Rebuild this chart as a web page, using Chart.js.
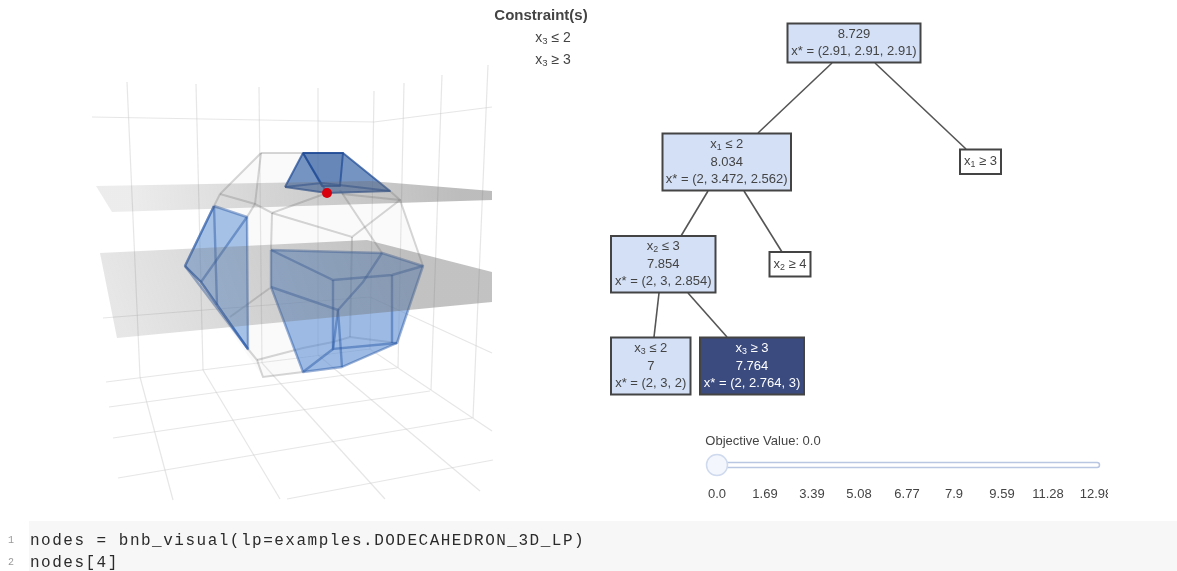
<!DOCTYPE html>
<html>
<head>
<meta charset="utf-8">
<script src="https://cdn.jsdelivr.net/npm/chart.js@4"></script>
<style>
    html, body { margin: 0; padding: 0; background: #fff; overflow: hidden; }
    #chartBox { position: absolute; left: 0; top: 0; width: 1177px; height: 521px; }
    #treeChart { filter: blur(0.4px); }
    #code { position: absolute; left: 29px; top: 521px; width: 1148px; height: 50px; background: #f7f7f7; }
    #code pre { position: absolute; left: 1px; margin: 0; font: 16px/22px "Liberation Mono", monospace; letter-spacing: 1.5px; color: #2b2b2b; }
    #code span { position: absolute; left: -21px; font: 10px/22px "Liberation Mono", monospace; letter-spacing: 0; color: #999; }
</style>
</head>
<body>
<div id="chartBox"><canvas id="treeChart" width="1177" height="521"></canvas></div>
<div id="code">
    <span style="top:9px">1</span><pre style="top:9px">nodes = bnb_visual(lp=examples.DODECAHEDRON_3D_LP)</pre>
    <span style="top:31px">2</span><pre style="top:31px">nodes[4]</pre>
</div>
<script>
// 3d scene in page pixels
const gridLines = [
    [[127, 82], [140, 377]], [[196, 84], [203, 370]], [[259, 87], [262, 363]],
    [[318, 88], [318, 355]], [[374, 91], [370, 349]], [[404, 83], [398, 368]],
    [[442, 75], [431, 390]], [[488, 65], [473, 418]],
    [[92, 117], [374, 122], [492, 107]],
    [[103, 318], [370, 297], [492, 353]],
    [[106, 382], [370, 349], [492, 431]],
    [[109, 407], [397, 368]], [[113, 438], [430, 391]],
    [[118, 478], [472, 418]], [[287, 499], [493, 460]],
    [[140, 377], [173, 500]], [[203, 370], [280, 499]],
    [[262, 363], [385, 499]], [[318, 355], [480, 491]]
];

const hullShape = [[261, 153], [343, 153], [400, 200], [423, 266], [397, 343], [342, 367], [263, 377], [185, 266], [220, 194]];

const wireEdges = [
    [[261, 153], [303, 153]], [[261, 153], [220, 194]], [[261, 153], [255, 204]],
    [[220, 194], [255, 204], [272, 213], [327, 193]],
    [[255, 204], [247, 217]], [[220, 194], [214, 206]],
    [[272, 213], [352, 237], [400, 200], [390, 191]],
    [[272, 213], [271, 250]], [[340, 190], [382, 253]],
    [[342, 194], [400, 200], [423, 266]],
    [[352, 237], [350, 337]],
    [[230, 317], [270, 288]],
    [[248, 349], [257, 360], [263, 377], [303, 372]],
    [[257, 360], [303, 348], [333, 342], [350, 337], [397, 343]]
];

const capFaces = [
    [[285, 187], [303, 153], [343, 153], [390, 191], [327, 193]],
    [[303, 153], [343, 153], [340, 186], [322, 186]]
];
const capEdges = [
    [[303, 153], [327, 193]],
    [[285, 187], [322, 183], [390, 191]]
];
const leftFaces = [
    [[214, 206], [247, 217], [248, 349], [201, 282], [185, 266]]
];
const leftEdges = [
    [[214, 206], [185, 266]], [[247, 217], [201, 282]], [[185, 266], [201, 282], [248, 349]],
    [[185, 266], [248, 349]], [[214, 206], [217, 305]]
];
const rightFaces = [
    [[271, 250], [382, 253], [423, 266], [397, 343], [342, 367], [303, 372], [271, 287]]
];
const rightEdges = [
    [[271, 250], [333, 280], [392, 275], [423, 266]],
    [[382, 253], [363, 282], [338, 310]],
    [[271, 287], [338, 310], [342, 367]],
    [[338, 310], [333, 349], [303, 372]],
    [[333, 280], [333, 349], [397, 343]],
    [[392, 275], [392, 343]]
];

const upperPlane = [[96, 186], [370, 181], [492, 191], [492, 200], [112, 212]];
const lowerPlane = [[100, 253], [367, 240], [492, 272], [492, 302], [117, 338]];
const solutionPoint = [[327, 193]];

// branch and bound tree
const nodeTexts = [
    ["8.729", "x* = (2.91, 2.91, 2.91)"],
    ["x_1 ≤ 2", "8.034", "x* = (2, 3.472, 2.562)"],
    ["x_1 ≥ 3"],
    ["x_2 ≤ 3", "7.854", "x* = (2, 3, 2.854)"],
    ["x_2 ≥ 4"],
    ["x_3 ≤ 2", "7", "x* = (2, 3, 2)"],
    ["x_3 ≥ 3", "7.764", "x* = (2, 2.764, 3)"]
];
const nodeBoxes = [
    [787.5, 23.5, 920.5, 62.5], [662.5, 133.5, 791, 190.5], [960, 149.5, 1001, 174],
    [611, 236, 715.5, 292.5], [769.5, 252, 810.5, 276.5],
    [611, 337.5, 690.5, 394.5], [700, 337.5, 804, 394.5]
];
const openNodes = [0, 1, 3, 5];
const currentNode = 6;
const treeEdges = [
    [[832, 63], [758, 133]], [[875, 63], [966, 149]],
    [[708, 191], [681, 236]], [[744, 191], [782, 252]],
    [[659, 293], [654, 337]], [[688, 293], [727, 337]]
];

const constraintTitle = "Constraint(s)";
const constraintTexts = ["x_3 ≤ 2", "x_3 ≥ 3"];

// objective value slider
const sliderTitle = "Objective Value: 0.0";
const sliderLabels = ["0.0", "1.69", "3.39", "5.08", "6.77", "7.9", "9.59", "11.28", "12.98"];
const sliderTicks = [717, 765, 812, 859, 907, 954, 1002, 1048, 1096];
const sliderTrack = [[717, 465], [1097, 465]];
const sliderHandle = [[717, 465]];

const toPoints = list => list.map(p => ({ x: p[0], y: p[1] }));

function lineSet(list, color, width, extra) {
    return Object.assign({
        data: toPoints(list),
        showLine: true,
        borderColor: color,
        borderWidth: width,
        pointRadius: 0,
        tension: 0,
        fill: false
    }, extra || {});
}

function polySet(list, fillColor, color, width) {
    const closed = list.concat([list[0]]);
    return lineSet(closed, color, width, { fill: "shape", backgroundColor: fillColor, borderJoinStyle: "round" });
}

function boxSet(box, fillColor) {
    const list = [[box[0], box[1]], [box[2], box[1]], [box[2], box[3]], [box[0], box[3]], [box[0], box[1]], [box[2], box[1]]];
    return lineSet(list, "#444", 2, { fill: "shape", backgroundColor: fillColor, borderJoinStyle: "miter" });
}

const canvas = document.getElementById("treeChart");
const ctx = canvas.getContext("2d");

function planeFill(x0, y0, x1, y1, from, to) {
    const g = ctx.createLinearGradient(x0, y0, x1, y1);
    g.addColorStop(0, "rgba(110,110,110," + from + ")");
    g.addColorStop(1, "rgba(110,110,110," + to + ")");
    return g;
}

const blueFill = "rgba(80,135,210,0.5)";
const blueEdge = "rgba(35,85,165,0.45)";
const wire = "rgba(120,120,120,0.3)";

const datasets = [];
gridLines.forEach(l => datasets.push(lineSet(l, "rgba(200,200,200,0.45)", 1.2)));
datasets.push(polySet(hullShape, "rgba(215,215,215,0.12)", "rgba(0,0,0,0)", 0));
wireEdges.forEach(l => datasets.push(lineSet(l, wire, 2)));
capFaces.forEach((f, i) => datasets.push(polySet(f, i === 0 ? "rgba(50,95,165,0.66)" : "rgba(40,80,150,0.18)", "rgba(30,75,150,0.72)", 2)));
capEdges.forEach(l => datasets.push(lineSet(l, "rgba(30,75,150,0.6)", 2)));
leftFaces.forEach(f => datasets.push(polySet(f, blueFill, blueEdge, 2.4)));
leftEdges.forEach(l => datasets.push(lineSet(l, blueEdge, 2.4)));
rightFaces.forEach(f => datasets.push(polySet(f, "rgba(80,135,210,0.55)", blueEdge, 2.4)));
rightEdges.forEach(l => datasets.push(lineSet(l, blueEdge, 2.4)));
datasets.push(polySet(upperPlane, planeFill(130, 215, 460, 185, 0.13, 0.46), "rgba(0,0,0,0)", 0));
datasets.push(polySet(lowerPlane, planeFill(130, 345, 400, 250, 0.17, 0.42), "rgba(0,0,0,0)", 0));
datasets.push({ data: toPoints(solutionPoint), pointRadius: 5, pointBackgroundColor: "#d8000c", pointBorderWidth: 0 });
treeEdges.forEach(l => datasets.push(lineSet(l, "#555", 1.6)));
nodeBoxes.forEach((b, i) => {
    const bg = i === currentNode ? "#3b4b7f" : openNodes.includes(i) ? "#d3e0f6" : "#ffffff";
    datasets.push(boxSet(b, bg));
});
datasets.push(lineSet(sliderTrack, "#b9c7e2", 6.5, { borderCapStyle: "round" }));
datasets.push(lineSet(sliderTrack, "#ffffff", 3.5, { borderCapStyle: "round" }));
datasets.push({ data: toPoints(sliderHandle), pointRadius: 10.5, pointBackgroundColor: "#f3f6fc", pointBorderColor: "#cfdaee", pointBorderWidth: 1.5 });

// first dataset is painted last in Chart.js, so number them back to front
datasets.forEach((d, i) => { d.order = datasets.length - i; });

// writes one line centred on x, "x_3" gets a small subscript
function drawLabel(c, text, x, y, color, size, bold) {
    const parts = text.split(/_(\d)/);
    const big = (bold ? "bold " : "") + size + "px 'Liberation Sans', Arial, sans-serif";
    const small = (size * 0.68) + "px 'Liberation Sans', Arial, sans-serif";
    let total = 0;
    parts.forEach((p, i) => {
        c.font = i % 2 ? small : big;
        total += c.measureText(p).width;
    });
    let left = x - total / 2;
    c.fillStyle = color;
    c.textAlign = "left";
    c.textBaseline = "middle";
    parts.forEach((p, i) => {
        c.font = i % 2 ? small : big;
        c.fillText(p, left, i % 2 ? y + 3 : y);
        left += c.measureText(p).width;
    });
}

const textPlugin = {
    id: "textPlugin",
    afterDatasetsDraw(chart) {
        const c = chart.ctx;
        const sx = chart.scales.x;
        const sy = chart.scales.y;

        nodeTexts.forEach((lines, i) => {
            const b = nodeBoxes[i];
            const cx = sx.getPixelForValue((b[0] + b[2]) / 2);
            const cy = sy.getPixelForValue((b[1] + b[3]) / 2);
            lines.forEach((t, n) => {
                const y = cy + (n - (lines.length - 1) / 2) * 17.5;
                drawLabel(c, t, cx, y, i === currentNode ? "#ffffff" : "#444", 13, false);
            });
        });

        drawLabel(c, constraintTitle, sx.getPixelForValue(541), sy.getPixelForValue(16), "#444", 15, true);
        constraintTexts.forEach((t, i) => {
            drawLabel(c, t, sx.getPixelForValue(553), sy.getPixelForValue(38 + i * 22), "#444", 14, false);
        });

        drawLabel(c, sliderTitle, sx.getPixelForValue(763), sy.getPixelForValue(441), "#444", 13, false);
        c.save();
        c.beginPath();
        c.rect(690, 480, 418, 30);
        c.clip();
        sliderLabels.forEach((t, i) => {
            drawLabel(c, t, sx.getPixelForValue(sliderTicks[i]), sy.getPixelForValue(494), "#444", 13, false);
        });
        c.restore();
    }
};

new Chart(canvas, {
    type: "scatter",
    data: { datasets: datasets },
    plugins: [textPlugin],
    options: {
        responsive: false,
        animation: false,
        events: [],
        layout: { padding: 0, autoPadding: false },
        plugins: { legend: { display: false }, tooltip: { enabled: false } },
        scales: {
            x: { type: "linear", min: 0, max: 1177, display: false },
            y: { type: "linear", min: 0, max: 521, reverse: true, display: false }
        }
    }
});
</script>
</body>
</html>
